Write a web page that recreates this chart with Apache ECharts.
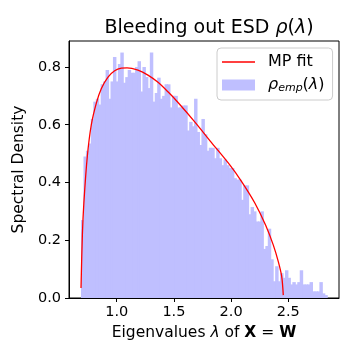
<!DOCTYPE html>
<html>
<head>
<meta charset="utf-8">
<script src="https://cdn.jsdelivr.net/npm/echarts@6/dist/echarts.min.js"></script>
<style>
  html, body { margin: 0; padding: 0; background: #fff; }
  #chart { width: 360px; height: 360px; }
</style>
</head>
<body>
<div id="chart"></div>
<script>
// histogram of eigenvalues, 100 bins
const binStart = 0.688;
const binWidth = 0.02148;
const binHeights = [
  0.27, 0.49, 0.51, 0.535, 0.62, 0.68, 0.69, 0.67, 0.74, 0.75,
  0.79, 0.69, 0.75, 0.835, 0.75, 0.81, 0.85, 0.745, 0.765, 0.79,
  0.78, 0.78, 0.80, 0.82, 0.715, 0.80, 0.765, 0.727, 0.85, 0.68,
  0.71, 0.763, 0.69, 0.70, 0.74, 0.74, 0.66, 0.70, 0.70, 0.66,
  0.66, 0.667, 0.667, 0.58, 0.61, 0.595, 0.69, 0.575, 0.53, 0.62,
  0.567, 0.51, 0.52, 0.52, 0.484, 0.52, 0.484, 0.46, 0.48, 0.46,
  0.45, 0.45, 0.415, 0.41, 0.41, 0.34, 0.39, 0.39, 0.29, 0.315,
  0.30, 0.265, 0.265, 0.30, 0.17, 0.18, 0.24, 0.134, 0.058, 0.11,
  0.058, 0.086, 0.07, 0.096, 0.07, 0.047, 0.055, 0.047, 0.055, 0.096,
  0.047, 0.047, 0.047, 0.055, 0.023, 0.023, 0.023, 0.055, 0.016, 0.01
];

// MP fit curve
const mpLambda = [0.688, 0.70, 0.713, 0.743, 0.778, 0.822, 0.865, 0.924, 0.982, 1.04,
  1.09, 1.186, 1.273, 1.361, 1.448, 1.536, 1.682, 1.827, 1.99, 2.089,
  2.206, 2.302, 2.369, 2.413, 2.442, 2.456];
const mpRho = [0.035, 0.22, 0.33, 0.49, 0.60, 0.675, 0.725, 0.765, 0.787, 0.796,
  0.797, 0.789, 0.772, 0.747, 0.714, 0.677, 0.610, 0.539, 0.46, 0.405,
  0.33, 0.252, 0.183, 0.125, 0.075, 0.01];

const xTicks = [1.0, 1.5, 2.0, 2.5];
const yTicks = [0.0, 0.2, 0.4, 0.6, 0.8];

const FONT = "DejaVu Sans";

const chart = echarts.init(document.getElementById("chart"), null, { renderer: "canvas" });

const histData = binHeights.map((h, i) => [binStart + i * binWidth, binStart + (i + 1) * binWidth, h]);
const mpData = mpLambda.map((l, i) => [l, mpRho[i]]);

const option = {
  animation: false,
  backgroundColor: "#fff",
  title: {
    text: "Bleeding out ESD {i|ρ}({i|λ})",
    left: 204,
    textAlign: "center",
    top: 14,
    textStyle: {
      fontFamily: FONT,
      fontSize: 19,
      fontWeight: "normal",
      color: "#000",
      rich: { i: { fontFamily: FONT, fontSize: 19, fontStyle: "italic", color: "#000" } },
    },
  },
  grid: {
    left: 69,
    right: 21,
    top: 41,
    bottom: 62,
    show: true,
    borderColor: "#000",
    borderWidth: 1,
    backgroundColor: "transparent",
  },
  legend: {
    orient: "vertical",
    left: 217,
    top: 48,
    padding: [6, 8, 6, 5],
    itemGap: 7,
    itemWidth: 33,
    itemHeight: 11,
    backgroundColor: "rgba(255,255,255,0.8)",
    borderColor: "#cccccc",
    borderWidth: 1,
    borderRadius: 4,
    textStyle: {
      fontFamily: FONT,
      fontSize: 16,
      color: "#000",
      padding: [0, 0, 0, 8],
      rich: {
        i: { fontFamily: FONT, fontStyle: "italic", fontSize: 16, color: "#000" },
        sub: { fontFamily: FONT, fontStyle: "italic", fontSize: 11, color: "#000", padding: [7, 0, 0, 0] },
        n: { fontFamily: FONT, fontSize: 16, color: "#000" },
      },
    },
    formatter: function (name) {
      if (name === "MP fit") return name;
      return "{i|ρ}{sub|emp}{n|(}{i|λ}{n|)}";
    },
    data: [
      { name: "MP fit", icon: "path://M0,0H33V1.3H0Z" },
      { name: "rho_emp", icon: "rect" },
    ],
  },
  xAxis: {
    type: "value",
    min: 0.583,
    max: 2.943,
    name: "Eigenvalues {i|λ} of {b|X} = {b|W}",
    nameLocation: "middle",
    nameGap: 25,
    nameTextStyle: {
      fontFamily: FONT,
      fontSize: 15.5,
      color: "#000",
      rich: {
        b: { fontFamily: FONT, fontSize: 15.5, fontWeight: "bold", color: "#000" },
        i: { fontFamily: FONT, fontSize: 15.5, fontStyle: "italic", color: "#000" },
      },
    },
    splitLine: { show: false },
    axisLine: { show: true, onZero: false, lineStyle: { color: "#000", width: 1 } },
    axisTick: { show: true, length: 4, lineStyle: { color: "#000" }, customValues: xTicks },
    axisLabel: {
      fontFamily: FONT,
      fontSize: 14.5,
      color: "#000",
      margin: 7,
      customValues: xTicks,
      formatter: (v) => v.toFixed(1),
    },
  },
  yAxis: {
    type: "value",
    min: 0,
    max: 0.89,
    name: "Spectral Density",
    nameLocation: "middle",
    nameGap: 32,
    nameTextStyle: { fontFamily: FONT, fontSize: 15.5, color: "#000" },
    splitLine: { show: false },
    axisLine: { show: true, lineStyle: { color: "#000", width: 1 } },
    axisTick: { show: true, length: 4, lineStyle: { color: "#000" }, customValues: yTicks },
    axisLabel: {
      fontFamily: FONT,
      fontSize: 14.5,
      color: "#000",
      margin: 8,
      customValues: yTicks,
      formatter: (v) => v.toFixed(1),
    },
  },
  series: [
    {
      name: "rho_emp",
      type: "custom",
      itemStyle: { color: "#bfbfff" },
      renderItem: function (params, api) {
        const lo = api.coord([api.value(0), api.value(2)]);
        const hi = api.coord([api.value(1), 0]);
        return {
          type: "rect",
          shape: { x: lo[0], y: lo[1], width: hi[0] - lo[0] + 1, height: hi[1] - lo[1] },
          style: { fill: "#bfbfff" },
        };
      },
      encode: { x: [0, 1], y: 2 },
      data: histData,
      z: 1,
    },
    {
      name: "MP fit",
      type: "line",
      data: mpData,
      smooth: 0.3,
      symbol: "none",
      lineStyle: { color: "#ff0000", width: 1.3 },
      itemStyle: { color: "#ff0000" },
      z: 3,
    },
  ],
};

chart.setOption(option);
</script>
</body>
</html>
